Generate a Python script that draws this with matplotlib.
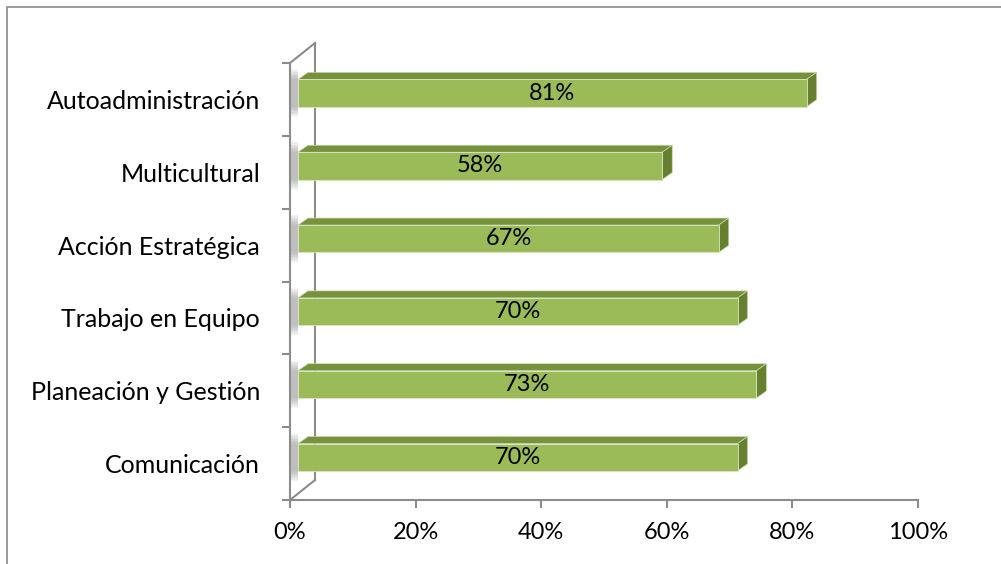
import numpy as np
import matplotlib.pyplot as plt
from matplotlib.patches import Polygon, Rectangle

plt.rcParams['font.family'] = ['Lato', 'DejaVu Sans']

categories = ['Comunicación', 'Planeación y Gestión', 'Trabajo en Equipo',
              'Acción Estratégica', 'Multicultural', 'Autoadministración']
values = [70, 73, 70, 67, 58, 81]
xticks = [0, 20, 40, 60, 80, 100]
xticklabels = ['0%', '20%', '40%', '60%', '80%', '100%']

front = '#9bbb59'
top = '#76923c'
side = '#67802f'
axis_gray = '#8c8c8c'

W, H = 1001, 564
fig = plt.figure(figsize=(W / 100, H / 100), dpi=100)

# chart frame
fig.patches.append(Rectangle((7 / W, -0.1), 1.2, (H - 7) / H + 0.1,
                             transform=fig.transFigure, fill=False,
                             edgecolor='#8a8a8a', linewidth=1.2))

ax = fig.add_axes([290 / W, 64 / H, 628 / W, 437 / H])
ax.set_xlim(0, 100)
ax.set_ylim(-0.5, 5.5)

# pixel -> data scale
sx = 100 / 628
sy = 6 / 437
off = 8 * sx           # front face starts a bit right of the axis
ddx, ddy = 10 * sx, 7 * sy   # depth of the bars
wall_dx, wall_dy = 25 * sx, 20 * sy

y = np.arange(len(categories))
y0 = y - 0.1
h = 0.375

for yi, b, v in zip(y, y0, values):
    x1 = v + off
    ax.add_patch(Polygon([(off, b + h), (x1, b + h), (x1 + ddx, b + h + ddy),
                          (off + ddx, b + h + ddy)], closed=True,
                         facecolor=top, edgecolor='#c9d7ad', lw=0.5, zorder=3))
    ax.add_patch(Polygon([(x1, b), (x1 + ddx, b + ddy), (x1 + ddx, b + h + ddy),
                          (x1, b + h)], closed=True,
                         facecolor=side, edgecolor='#c9d7ad', lw=0.5, zorder=3))
    # soft shadow on the side wall
    for k in range(8):
        ax.add_patch(Rectangle((off - 1.3, b - 0.14 + k * 0.02), 1.3,
                               h + 0.28 - k * 0.04, facecolor='#808080',
                               alpha=0.08, lw=0, zorder=2))
    ax.text(off + v / 2, b + h / 2, f'{v}%', ha='center', va='center',
            fontsize=17, color='black', zorder=5)

ax.barh(y0, values, height=h, left=off, align='edge', color=front,
        edgecolor='#dbe6c4', linewidth=0.6, zorder=4)

# side wall of the 3D frame
ax.plot([0, wall_dx], [-0.5, -0.5 + wall_dy], color=axis_gray, lw=1.5,
        clip_on=False, zorder=1)
ax.plot([0, wall_dx], [5.5, 5.5 + wall_dy], color=axis_gray, lw=1.5,
        clip_on=False, zorder=1)
ax.plot([wall_dx, wall_dx], [-0.5 + wall_dy, 5.5 + wall_dy], color=axis_gray,
        lw=1.5, clip_on=False, zorder=1)

for s in ['top', 'right']:
    ax.spines[s].set_visible(False)
for s in ['left', 'bottom']:
    ax.spines[s].set_color(axis_gray)
    ax.spines[s].set_linewidth(1.5)

ax.set_xticks(xticks)
ax.set_xticklabels(xticklabels, fontsize=17)
ax.set_yticks(np.arange(-0.5, 6, 1))
ax.set_yticklabels([])
ax.set_yticks(y, minor=True)
ax.set_yticklabels(categories, minor=True, fontsize=18)
ax.tick_params(axis='y', which='minor', length=0, pad=21.5)
ax.tick_params(axis='both', which='major', length=6, width=1.5, color=axis_gray)
ax.tick_params(axis='x', pad=10)
ax.patch.set_visible(False)

fig.savefig('out.png', dpi=100)
